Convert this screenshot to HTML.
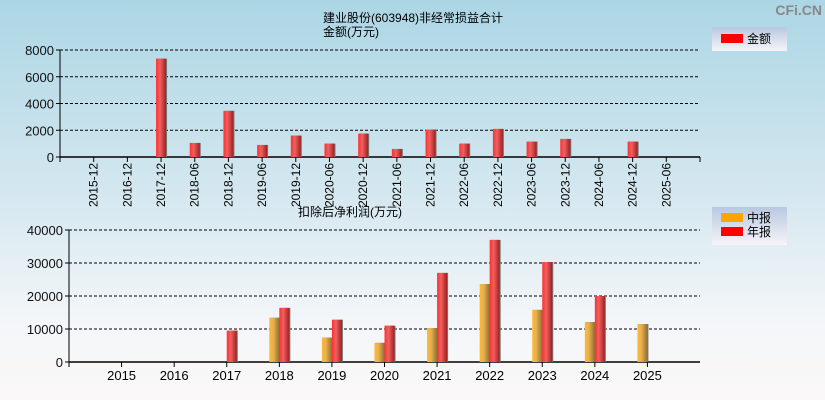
<!DOCTYPE html>
<html><head><meta charset="utf-8"><style>
html,body{margin:0;padding:0;overflow:hidden}
body{width:825px;height:400px;overflow:hidden;background:linear-gradient(#acd6e5 0%,#d6e8f0 50%,#f3f6f9 80%,#fbf8f8 100%);font-family:"Liberation Sans","Noto Sans CJK SC",sans-serif}
svg{display:block}
svg text{font-family:"Liberation Sans","Noto Sans CJK SC",sans-serif}
</style></head><body>
<svg id="c" width="825" height="400">
<defs>
<linearGradient id="gr" x1="0" x2="1"><stop offset="0" stop-color="#ff3030"/><stop offset="0.4" stop-color="#f06060"/><stop offset="1" stop-color="#a02020"/></linearGradient>
<linearGradient id="go" x1="0" x2="1"><stop offset="0" stop-color="#ffb830"/><stop offset="0.4" stop-color="#e8b050"/><stop offset="1" stop-color="#907030"/></linearGradient>
<linearGradient id="lg" x1="0" y1="0" x2="0" y2="1"><stop offset="0" stop-color="#b8c8e0"/><stop offset="1" stop-color="#f6f4f8"/></linearGradient>
</defs>
<text x="822" y="15" font-size="14" font-weight="bold" text-anchor="end" fill="#888">CFi.CN</text>
<text x="323" y="22" font-size="12">建业股份(603948)非经常损益合计</text>
<text x="323" y="36" font-size="12">金额(万元)</text>
<text x="298" y="216" font-size="12">扣除后净利润(万元)</text>
<g id="top"></g><g id="bot"></g>
<g>
<rect x="712" y="27" width="75" height="24" fill="url(#lg)"/>
<rect x="721" y="34" width="22" height="9" fill="#ff0000"/>
<text x="747" y="43" font-size="12">金额</text></g>
<g>
<rect x="712" y="207" width="75" height="38" fill="url(#lg)"/>
<rect x="721" y="213" width="22" height="9" fill="#ffa500"/>
<text x="747" y="222" font-size="12">中报</text>
<rect x="721" y="227" width="22" height="9" fill="#ff0000"/>
<text x="747" y="236" font-size="12">年报</text></g>
</svg>
<script>
const topCats=["2015-12","2016-12","2017-12","2018-06","2018-12","2019-06","2019-12","2020-06","2020-12","2021-06","2021-12","2022-06","2022-12","2023-06","2023-12","2024-06","2024-12","2025-06"];
const topVals=[0,0,7350,1050,3450,900,1600,1000,1750,600,2050,1000,2100,1150,1350,0,1150,0];
const topTicks=[0,2000,4000,6000,8000];
const botCats=["2015","2016","2017","2018","2019","2020","2021","2022","2023","2024","2025"];
const botInterim=[0,0,0,13400,7400,5800,10300,23600,15800,12100,11500];
const botAnnual=[0,0,9500,16400,12800,11000,27000,37000,30300,20000,0];
const botTicks=[0,10000,20000,30000,40000];
const NS="http://www.w3.org/2000/svg";
function mk(p,t,a,txt){const e=document.createElementNS(NS,t);for(const k in a)e.setAttribute(k,a[k]);if(txt!==undefined)e.textContent=txt;p.appendChild(e);return e;}
function axis(g,x0,x1,y0,y1,max,ticks,name){
 const ys=v=>y0-(v/max)*(y0-y1);
 ticks.forEach(t=>{const y=ys(t);
  if(t>0){const l=mk(g,'line',{x1:x0,x2:x1,y1:y,y2:y,stroke:'#000','stroke-dasharray':'3,2'});}
  mk(g,'line',{x1:x0-4,x2:x0,y1:y,y2:y,stroke:'#000'});
  const tx=mk(g,'text',{x:x0-6,y:y+5,'font-size':13,'text-anchor':'end',fill:'#111'},String(t));
  });
 mk(g,'line',{x1:x0,x2:x0,y1:y1,y2:y0,stroke:'#000'});
 mk(g,'line',{x1:x0,x2:x1,y1:y0,y2:y0,stroke:'#000','stroke-width':1.5});
 return ys;}
function bar(g,x,w,y,h,fill,name){
 if(h<=0)return;
 mk(g,'rect',{x:x+1,y:y,width:w,height:h,fill:'#777'});
 const r=mk(g,'rect',{x:x,y:y,width:w,height:h,fill:fill});
 }
(function(){const g=document.getElementById('top');const x0=60,x1=700,y0=157,y1=50;
 const ys=axis(g,x0,x1,y0,y1,8000,topTicks,'top');
 const step=(x1-x0)/(topCats.length+1);
 const xs=i=>x0+step*(i+1);
 mk(g,'line',{x1:x0,x2:x0,y1:y0,y2:y0+5,stroke:'#000'});mk(g,'line',{x1:x1,x2:x1,y1:y0,y2:y0+5,stroke:'#000'});
 topCats.forEach((c,i)=>{const x=xs(i);
  mk(g,'line',{x1:x,x2:x,y1:y0,y2:y0+5,stroke:'#000'});
  const t=mk(g,'text',{x:0,y:0,'font-size':12,'text-anchor':'end',transform:`translate(${x+4},${y0+6}) rotate(-90)`},c);
  
  const v=topVals[i];bar(g,x-5,10,ys(v),y0-ys(v),'url(#gr)','bar-'+c);});
})();
(function(){const g=document.getElementById('bot');const x0=69,x1=700,y0=362,y1=230;
 const ys=axis(g,x0,x1,y0,y1,40000,botTicks,'bottom');
 const step=(x1-x0)/(botCats.length+1);
 const xs=i=>x0+step*(i+1);
 mk(g,'line',{x1:x0,x2:x0,y1:y0,y2:y0+5,stroke:'#000'});
 botCats.forEach((c,i)=>{const x=xs(i);
  mk(g,'line',{x1:x,x2:x,y1:y0,y2:y0+5,stroke:'#000'});
  const t=mk(g,'text',{x:x,y:y0+18,'font-size':13,'text-anchor':'middle'},c);
  
  let v=botInterim[i];bar(g,x-10,10,ys(v),y0-ys(v),'url(#go)','bar-interim-'+c);
  v=botAnnual[i];bar(g,x,10,ys(v),y0-ys(v),'url(#gr)','bar-annual-'+c);});
})();
</script>
</body></html>
